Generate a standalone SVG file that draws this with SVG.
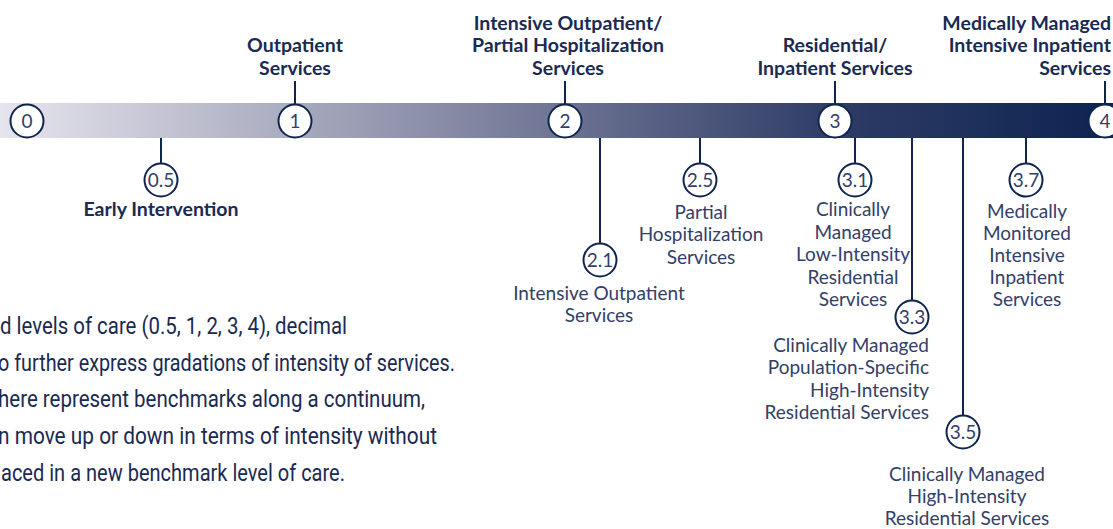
<svg xmlns="http://www.w3.org/2000/svg" width="1113" height="529" viewBox="0 0 1113 529">
<style>
.h{font-family:Lato,"Noto Sans",sans-serif;font-weight:700;font-size:19.5px;fill:#1a2a52;text-anchor:middle}
.l{font-family:Lato,"Noto Sans",sans-serif;font-weight:400;font-size:19px;fill:#324068;text-anchor:middle}
.r{text-anchor:end}
.n{font-family:Lato,"Noto Sans",sans-serif;font-weight:400;font-size:19px;fill:#324068;text-anchor:middle}
.big{fill:#fff;stroke:#0f2550;stroke-width:2}
.sm{fill:#fff;stroke:#0f2550;stroke-width:2}
.c line{stroke:#0f2550;stroke-width:2}
.p{font-family:Roboto,"Noto Sans",sans-serif;font-size:23px;fill:#1a2a52}
</style>
<defs>
<linearGradient id="bar" x1="0" y1="0" x2="1113" y2="0" gradientUnits="userSpaceOnUse">
<stop offset="0" stop-color="#e6e5ee"/>
<stop offset="0.27" stop-color="#a7a9bd"/>
<stop offset="0.51" stop-color="#6c7292"/>
<stop offset="0.75" stop-color="#2e3c66"/>
<stop offset="1" stop-color="#0d2350"/>
</linearGradient>
</defs>
<rect id="bar-rect" x="0" y="103" width="1113" height="35" fill="url(#bar)"/>
<g class="c" id="connectors">
<line x1="295" y1="81" x2="295" y2="105"/>
<line x1="565" y1="81" x2="565" y2="105"/>
<line x1="835" y1="81" x2="835" y2="105"/>
<line x1="1105" y1="81" x2="1105" y2="105"/>
<line x1="161" y1="138" x2="161" y2="164"/>
<line x1="600" y1="138" x2="600" y2="244"/>
<line x1="700" y1="138" x2="700" y2="164"/>
<line x1="855" y1="138" x2="855" y2="164"/>
<line x1="912" y1="138" x2="912" y2="301"/>
<line x1="963" y1="138" x2="963" y2="416"/>
<line x1="1026" y1="138" x2="1026" y2="164"/>
</g>
<g id="n0"><circle class="big" cx="27" cy="121" r="16.5"/><text class="n" x="27" y="128">0</text></g>
<g id="n1"><circle class="big" cx="295" cy="121" r="16.5"/><text class="n" x="295" y="128">1</text>
<text class="h" x="295" y="52">Outpatient</text><text class="h" x="295" y="75">Services</text></g>
<g id="n2"><circle class="big" cx="565" cy="121" r="16.5"/><text class="n" x="565" y="128">2</text>
<text class="h" x="568" y="30">Intensive Outpatient/</text><text class="h" x="568" y="52">Partial Hospitalization</text><text class="h" x="568" y="75">Services</text></g>
<g id="n3"><circle class="big" cx="835" cy="121" r="16.5"/><text class="n" x="835" y="128">3</text>
<text class="h" x="835" y="52">Residential/</text><text class="h" x="835" y="75">Inpatient Services</text></g>
<g id="n4"><circle class="big" cx="1105" cy="121" r="16.5"/><text class="n" x="1105" y="128">4</text>
<text class="h r" x="1111" y="30">Medically Managed</text><text class="h r" x="1111" y="52">Intensive Inpatient</text><text class="h r" x="1111" y="75">Services</text></g>
<g id="n05"><circle class="sm" cx="161" cy="180" r="16.5"/><text class="n" x="161" y="187">0.5</text>
<text class="h" x="161" y="216">Early Intervention</text></g>
<g id="n21"><circle class="sm" cx="600" cy="260" r="16.5"/><text class="n" x="600" y="267">2.1</text>
<text class="l" x="599" y="300">Intensive Outpatient</text><text class="l" x="599" y="322">Services</text></g>
<g id="n25"><circle class="sm" cx="700" cy="180" r="16.5"/><text class="n" x="700" y="187">2.5</text>
<text class="l" x="701" y="219">Partial</text><text class="l" x="701" y="241">Hospitalization</text><text class="l" x="701" y="264">Services</text></g>
<g id="n31"><circle class="sm" cx="855" cy="180" r="16.5"/><text class="n" x="855" y="187">3.1</text>
<text class="l" x="853" y="216">Clinically</text><text class="l" x="853" y="239">Managed</text><text class="l" x="853" y="261">Low-Intensity</text><text class="l" x="853" y="284">Residential</text><text class="l" x="853" y="306">Services</text></g>
<g id="n33"><circle class="sm" cx="912" cy="317" r="16.5"/><text class="n" x="912" y="324">3.3</text>
<text class="l r" x="929" y="352">Clinically Managed</text><text class="l r" x="929" y="374">Population-Specific</text><text class="l r" x="929" y="397">High-Intensity</text><text class="l r" x="929" y="419">Residential Services</text></g>
<g id="n35"><circle class="sm" cx="963" cy="432" r="16.5"/><text class="n" x="963" y="439">3.5</text>
<text class="l" x="967" y="481">Clinically Managed</text><text class="l" x="967" y="503">High-Intensity</text><text class="l" x="967" y="525">Residential Services</text></g>
<g id="n37"><circle class="sm" cx="1026" cy="180" r="16.5"/><text class="n" x="1026" y="187">3.7</text>
<text class="l" x="1027" y="218">Medically</text><text class="l" x="1027" y="240">Monitored</text><text class="l" x="1027" y="262">Intensive</text><text class="l" x="1027" y="284">Inpatient</text><text class="l" x="1027" y="306">Services</text></g>
<g id="paragraph">
<text class="p" x="0" y="334" textLength="347" lengthAdjust="spacingAndGlyphs">d levels of care (0.5, 1, 2, 3, 4), decimal</text>
<text class="p" x="-2" y="371" textLength="457" lengthAdjust="spacingAndGlyphs">o further express gradations of intensity of services.</text>
<text class="p" x="-2" y="407" textLength="427" lengthAdjust="spacingAndGlyphs">here represent benchmarks along a continuum,</text>
<text class="p" x="-2" y="444" textLength="439" lengthAdjust="spacingAndGlyphs">n move up or down in terms of intensity without</text>
<text class="p" x="1" y="481" textLength="344" lengthAdjust="spacingAndGlyphs">aced in a new benchmark level of care.</text>
</g>
</svg>
